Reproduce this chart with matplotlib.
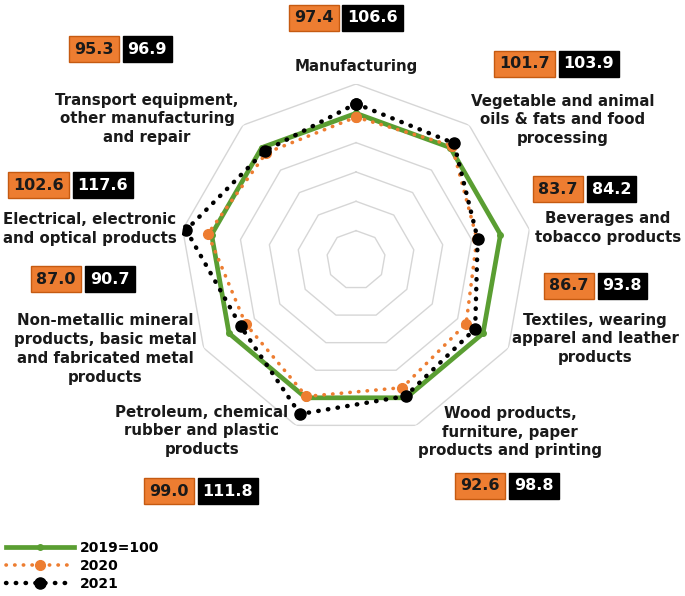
import numpy as np
import matplotlib
matplotlib.use("Agg")
import matplotlib.pyplot as plt

# categories clockwise from the top
categories = [
    "Manufacturing",
    "Vegetable and animal\noils & fats and food\nprocessing",
    "Beverages and\ntobacco products",
    "Textiles, wearing\napparel and leather\nproducts",
    "Wood products,\nfurniture, paper\nproducts and printing",
    "Petroleum, chemical\nrubber and plastic\nproducts",
    "Non-metallic mineral\nproducts, basic metal\nand fabricated metal\nproducts",
    "Electrical, electronic\nand optical products",
    "Transport equipment,\nother manufacturing\nand repair",
]
base_2019 = [100, 100, 100, 100, 100, 100, 100, 100, 100]
vals_2020 = [97.4, 101.7, 83.7, 86.7, 92.6, 99.0, 87.0, 102.6, 95.3]
vals_2021 = [106.6, 103.9, 84.2, 93.8, 98.8, 111.8, 90.7, 117.6, 96.9]
series_names = ["2019=100", "2020", "2021"]

# layout of labels (pixel positions in the 685x596 figure)
label_pos = [(356, 66), (563, 120), (608, 228), (595, 339), (510, 432),
             (202, 431), (105, 349), (90, 229), (147, 119)]
# midpoint between the orange and black value boxes
box_pos = [(340.5, 18), (556.5, 64), (584.5, 189), (595.5, 286), (507, 486),
           (195.5, 491), (83, 279), (70.5, 185), (120.5, 49)]

W, H = 685, 596
fig = plt.figure(figsize=(W / 100, H / 100), dpi=100)
ax = fig.add_axes([0.2628, 0.2685, 0.5139, 0.5906], projection="polar")
ax.set_theta_zero_location("N")
ax.set_theta_direction(-1)

n = len(categories)
theta = np.linspace(0, 2 * np.pi, n, endpoint=False)
tc = np.append(theta, theta[0])

# polygon grid rings
for r in range(20, 121, 20):
    ax.plot(tc, [r] * (n + 1), color="#d6d6d6", lw=1, zorder=1)

green = "#5a9e32"
orange = "#ED7D31"

def closed(v):
    return list(v) + [v[0]]

ax.plot(tc, closed(base_2019), color=green, lw=3.4, marker="o", ms=4,
        solid_joinstyle="round", zorder=3, label=series_names[0])
ax.plot(tc, closed(vals_2020), color=orange, lw=2.6, linestyle=(0, (0.1, 2.3)),
        dash_capstyle="round", marker="o", ms=7, zorder=4, label=series_names[1])
ax.plot(tc, closed(vals_2021), color="black", lw=3.2, linestyle=(0, (0.1, 2.1)),
        dash_capstyle="round", marker="o", ms=8, zorder=5, label=series_names[2])

ax.set_ylim(0, 120)
ax.set_xticks([])
ax.set_yticks([])
ax.grid(False)
ax.spines["polar"].set_visible(False)

def fpos(x, y):
    return x / W, 1 - y / H

pad_px = 0.32 * 11.5 * 100 / 72
for i in range(n):
    lx, ly = fpos(*label_pos[i])
    fig.text(lx, ly, categories[i], ha="center", va="center", fontsize=10.8,
             fontweight="bold", color="#1a1a1a", linespacing=1.32)
    bx, by = box_pos[i]
    fig.text(*fpos(bx - 2 - pad_px, by), f"{vals_2020[i]:.1f}", ha="right", va="center",
             fontsize=11.5, fontweight="bold", color="#1a1a1a",
             bbox=dict(boxstyle="square,pad=0.32", fc=orange, ec="#c55a11", lw=1))
    fig.text(*fpos(bx + 2 + pad_px, by), f"{vals_2021[i]:.1f}", ha="left", va="center",
             fontsize=11.5, fontweight="bold", color="white",
             bbox=dict(boxstyle="square,pad=0.32", fc="black", ec="black", lw=1))

fig.legend(loc="upper left", bbox_to_anchor=fpos(6, 541), frameon=False,
           prop={"weight": "bold", "size": 10}, handlelength=4.9,
           handletextpad=0.4, labelspacing=0.3, borderpad=0, borderaxespad=0)

fig.savefig("out.png", dpi=100)
